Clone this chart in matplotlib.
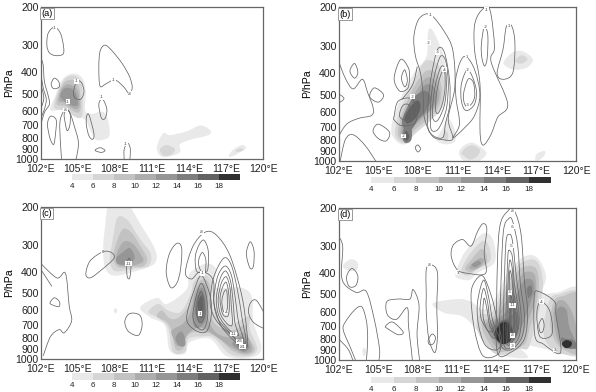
import matplotlib
matplotlib.use('Agg')
import numpy as np
import matplotlib.pyplot as plt
from matplotlib.path import Path
from matplotlib.patches import PathPatch

plt.rcParams['font.family'] = ['Liberation Sans', 'DejaVu Sans']

# axis ticks
lon_ticks = [102, 105, 108, 111, 114, 117, 120]
p_ticks = [200, 300, 400, 500, 600, 700, 800, 900, 1000]
bar_levels = [4, 6, 8, 10, 12, 14, 16, 18, 20]
bar_labels = ['4', '6', '8', '10', '12', '14', '16', '18']
bar_colors = ['#e9e9e9', '#d6d6d6', '#c2c2c2', '#adadad', '#969696', '#7d7d7d', '#626262', '#303030']

# shaded areas: (lower level, outline in lon / hPa)
a_shades = [
    (4, [(102.75,587),(103.16,515),(103.7,435),(104.5,405),(105.3,420),(105.64,485),(105.6,595),(106.1,620),(107.1,607),(107.5,685),(107.5,790),(106.5,815),(106,735),(105.6,660),(104.8,630),(103.8,587),(103.16,600)]),
    (4, [(111.4,875),(111.9,760),(112.45,775),(113.8,745),(114.9,700),(115.7,735),(115.55,775),(114.05,815),(113.25,855),(113.25,930),(112.2,975),(111.6,956)]),
    (4, [(117.2,965),(117.6,900),(118.3,860),(118.6,890),(118.1,930),(117.5,970)]),
    (6, [(103.1,580),(103.4,490),(104,425),(104.8,415),(105.3,450),(105.4,560),(105.3,640),(104.8,640),(104.1,600)]),
    (6, [(111.65,900),(112.2,860),(112.85,900),(112.5,955),(111.9,960)]),
    (6, [(117.75,915),(118.1,890),(118.4,905),(118,925)]),
    (8, [(103.3,560),(103.5,490),(104,440),(104.7,435),(105.1,470),(105.25,560),(105.1,610),(104.6,600),(104,570)]),
    (10, [(103.45,540),(103.65,480),(104.1,455),(104.6,460),(105,490),(105.15,560),(104.9,590),(104.4,575),(103.9,550)]),
    (12, [(103.6,520),(103.8,480),(104.2,470),(104.6,480),(104.9,510),(105,560),(104.7,570),(104.2,555)]),
]
b_shades = [
    (4, [(106,745),(106.1,650),(106.75,510),(107.75,393),(108.65,335),(108.75,263),(109,250),(109.5,283),(110,347),(110.15,460),(109.9,570),(109,650),(107.75,755),(107,840),(106.35,810)]),
    (4, [(109.4,800),(109.85,715),(110.3,640),(110.8,725),(110.8,815),(110.05,840)]),
    (4, [(111.1,920),(111.5,850),(112.1,825),(112.7,860),(113.2,925),(112.6,1000),(111.6,1010)]),
    (4, [(114.5,355),(115.2,320),(116,318),(116.7,345),(116.3,375),(115.4,385),(114.8,375)]),
    (4, [(116.9,990),(117,930),(117.6,900),(117.6,940),(117.2,990)]),
    (6, [(106.3,770),(106.4,660),(106.9,540),(107.7,430),(108.6,350),(109.6,370),(110,450),(109.8,560),(109,650),(107.9,740),(107,830)]),
    (6, [(109.9,790),(110.05,720),(110.3,760),(110.2,810)]),
    (6, [(111.3,920),(111.7,865),(112.2,850),(112.7,890),(112.5,950),(112,985),(111.6,960)]),
    (6, [(115.4,345),(115.9,330),(116.3,345),(115.9,360),(115.5,358)]),
    (8, [(106.5,760),(106.6,670),(107,570),(107.7,460),(108.6,390),(109.4,400),(109.8,470),(109.6,560),(108.8,640),(107.8,720),(107,810)]),
    (10, [(106.7,760),(106.8,670),(107.2,590),(107.8,490),(108.6,420),(109.3,430),(109.65,490),(109.4,560),(108.6,620),(107.7,700),(107,800)]),
    (12, [(106.8,760),(107,680),(107.3,600),(107.9,510),(108.6,450),(109.2,460),(109.4,510),(109.1,570),(108.4,620),(107.6,690),(107.1,790)]),
    (14, [(106.8,650),(107.4,540),(107.9,500),(108.6,480),(109,520),(108.6,590),(108,650),(107.5,720),(107,720)]),
    (14, [(106.85,790),(107,700),(107.5,710),(107.5,800),(107.1,830)]),
    (16, [(107,630),(107.5,560),(108,530),(108.2,570),(107.9,630),(107.4,670),(107.1,670)]),
    (16, [(106.95,780),(107.1,730),(107.35,770),(107.15,810)]),
]
c_shades = [
    (4, [(107.2,250),(107.55,195),(109,195),(110.05,240),(111.25,315),(111.2,365),(109.75,395),(107.9,415),(107.2,380),(107.05,310)]),
    (4, [(107.9,600),(108.05,585),(108.2,600),(108.05,620)]),
    (4, [(110.05,580),(111.4,525),(112.2,560),(113.8,480),(114.05,405),(115.4,365),(116.2,390),(116.1,470),(118.1,470),(119.05,515),(119.2,680),(119.85,900),(118.9,990),(117,970),(115.7,810),(114.05,840),(113.65,950),(112.45,920),(112.05,705),(110.85,645)]),
    (6, [(107.8,290),(108.2,225),(109,230),(110,280),(110.9,330),(110.7,375),(109.6,385),(108,395),(107.6,350)]),
    (6, [(110.7,610),(111.5,560),(112.3,600),(113.3,610),(114.1,510),(114.4,440),(115.2,410),(115.9,450),(115.8,560),(116.3,650),(117.3,700),(118.3,660),(118.9,640),(118.9,730),(119.5,900),(118.8,975),(117.3,950),(116,800),(115,790),(113.95,810),(113.65,930),(112.7,930),(112.3,720),(111.5,650)]),
    (8, [(108,310),(108.6,255),(109.3,262),(110,300),(110.6,345),(110.3,375),(109.4,378),(108.3,380),(107.9,350)]),
    (8, [(111.4,640),(111.8,600),(112.4,650),(113.1,650),(114,570),(114.5,470),(115.2,430),(115.7,470),(115.65,600),(116.2,700),(117.5,740),(118.5,700),(118.7,780),(119.3,900),(118.7,960),(117.5,920),(116.2,790),(114.9,750),(113.9,780),(113.5,900),(112.9,900),(112.6,750),(112.2,680)]),
    (10, [(108.1,335),(108.7,290),(109.4,295),(110,325),(110.3,355),(109.7,370),(108.9,375),(108.3,370)]),
    (10, [(112.6,740),(113.5,690),(114.1,610),(114.5,490),(115.15,450),(115.5,500),(115.5,640),(116.2,760),(117.5,800),(118.5,760),(119.1,900),(118.5,945),(117.6,900),(116.3,800),(115,720),(114,760),(113.4,860),(113,870),(112.7,800)]),
    (12, [(108.1,345),(108.6,325),(109.2,310),(109.6,340),(109.3,365),(108.7,370),(108.2,365)]),
    (12, [(112.9,800),(113.3,750),(113.6,780),(113.7,860),(113.4,880),(113.1,860)]),
    (12, [(114.3,660),(114.5,520),(115,470),(115.4,520),(115.4,650),(115,710),(114.5,720)]),
    (12, [(117.5,850),(118.3,790),(118.9,880),(118.5,930),(117.9,900)]),
    (14, [(114.5,610),(114.6,530),(115,490),(115.3,540),(115.2,650),(114.8,680)]),
    (14, [(117.9,860),(118.4,830),(118.7,880),(118.4,915),(118.1,900)]),
    (16, [(114.7,560),(115,510),(115.15,560),(115,630),(114.8,620)]),
]
d_shades = [
    (4, [(110.9,398),(111.55,322),(112.95,263),(113.7,280),(113.85,355),(112.55,398),(111.9,430),(111,420)]),
    (4, [(102.3,370),(102.9,345),(103.4,355),(103.4,385),(102.8,390)]),
    (4, [(103.8,900),(103.95,880),(104.1,920),(103.9,960)]),
    (4, [(109.15,550),(111.05,525),(112.05,540),(113.05,587),(114,510),(114.85,398),(116.1,335),(117.1,340),(117.75,412),(117.5,490),(118.6,490),(120.3,480),(120.3,920),(118.85,920),(116.6,860),(115.35,830),(116.35,975),(114.1,940),(113.05,800),(111.55,638),(110,607)]),
    (6, [(111.3,390),(111.9,330),(112.9,285),(113.4,300),(113.5,350),(112.5,385),(111.8,410)]),
    (6, [(112.7,620),(113.6,610),(114.2,520),(114.9,430),(115.8,360),(117,350),(117.5,430),(117.3,560),(116.9,700),(116.4,880),(115.7,890),(114.2,950),(113.2,860),(112.5,720)]),
    (6, [(117.7,620),(118.1,520),(118.7,500),(120.3,500),(120.3,900),(119,940),(118.2,890),(117.6,780)]),
    (8, [(111.6,380),(112.1,345),(112.8,310),(113.2,325),(113.2,360),(112.5,380),(112,395)]),
    (8, [(113,660),(113.8,630),(114.4,530),(115,450),(115.8,380),(116.9,375),(117.2,440),(117,560),(116.5,720),(116,860),(114.2,920),(113.4,830),(112.9,720)]),
    (8, [(118.1,620),(118.4,530),(119,510),(120.3,510),(120.3,900),(119.2,905),(118.5,830),(118.1,720)]),
    (10, [(111.9,375),(112.4,350),(112.8,340),(113.05,350),(112.7,375),(112.2,385)]),
    (10, [(113.2,680),(114,640),(114.5,560),(115.3,470),(116,400),(116.8,400),(117,460),(116.8,560),(116.3,680),(115.7,830),(114.3,890),(113.6,810)]),
    (10, [(118.3,620),(118.6,540),(119.2,540),(119.8,620),(120.2,800),(120.2,880),(119.2,880),(118.6,800)]),
    (12, [(112.1,365),(112.6,350),(112.8,360),(112.4,375)]),
    (12, [(113.4,700),(114.1,650),(114.7,600),(115.5,500),(116.1,430),(116.7,430),(116.85,480),(116.5,560),(116,680),(115.4,810),(114.4,860),(113.8,800)]),
    (12, [(118.5,620),(118.8,570),(119.3,590),(119.5,700),(119.9,800),(120.2,880),(119.2,880),(118.8,780)]),
    (14, [(113.6,720),(114.3,660),(114.9,640),(115.5,600),(115.7,700),(115.3,790),(114.5,840),(113.9,790)]),
    (14, [(116.3,470),(116.6,455),(116.7,490),(116.4,520)]),
    (14, [(118.9,790),(119.3,800),(119.8,810),(120.2,880),(119.4,880),(119,840)]),
    (16, [(113.85,740),(114.3,670),(114.9,660),(115.2,720),(115.1,790),(114.5,830),(114,790)]),
    (18, [(113.85,750),(114.3,680),(114.85,675),(115.2,740),(115,820),(114.4,845),(113.95,800)]),
    (18, [(118.95,840),(119.3,810),(119.7,830),(119.6,870),(119.2,880)]),
]

# closed contour lines
a_lines = [
    [(102.5,300),(102.6,265),(103.1,248),(103.6,265),(103.85,305),(103.8,330),(103.2,335),(102.7,325)],
    [(106.8,462),(106.7,380),(106.8,320),(107.2,300),(107.8,320),(108.6,365),(109.2,420),(109.4,470),(109.15,500),(108.7,465),(108,433),(107.3,450)],
    [(102.85,450),(103.1,425),(103.45,440),(103.5,465),(103.2,475),(102.95,470)],
    [(104,690),(103.9,620),(104.2,595),(104.4,630),(104.35,700),(104.15,740)],
    [(102.55,690),(102.8,635),(103.25,660),(103.2,760),(103.05,855),(102.75,800)],
    [(105.7,640),(105.9,625),(106.3,760),(106.2,810),(105.9,780),(105.7,700)],
    [(106.7,560),(107,530),(107.35,590),(107.2,650),(106.9,645)],
    [(106.4,910),(106.8,885),(107.2,910),(106.9,930)],
    [(104.65,495),(104.9,440),(105.3,445),(105.5,490),(105.25,530),(104.8,525)],
]
b_lines = [
    [(107.7,270),(108.1,225),(108.95,216),(110,258),(110.65,315),(110.8,460),(110.3,640),(110.65,790),(109.9,800),(109.1,770),(108.5,640),(108.4,500),(108.2,400),(107.8,330)],
    [(108.75,700),(108.8,520),(109.05,400),(109.5,310),(110,320),(110.4,430),(110.4,560),(110.1,670),(109.9,780),(109.2,770)],
    [(108.95,680),(109,520),(109.25,410),(109.7,335),(110.1,350),(110.3,440),(110.2,560),(109.9,650),(109.5,720),(109.1,730)],
    [(109.1,620),(109.2,500),(109.45,420),(109.8,370),(110.1,390),(110.15,470),(110,560),(109.6,640),(109.3,660)],
    [(109.35,590),(109.4,500),(109.65,420),(110,385),(110.05,470),(109.85,550),(109.55,605)],
    [(106.2,625),(106.5,535),(107.5,520),(107.9,590),(107.75,675),(106.75,690),(106.2,650)],
    [(106.6,620),(106.85,560),(107.3,555),(107.6,610),(107.4,650),(106.9,650)],
    [(106.2,420),(106.7,345),(107.3,380),(107.35,430),(107.2,470),(106.6,480)],
    [(106.75,420),(107,385),(107.2,430),(107,460)],
    [(110.85,430),(111.2,355),(111.65,335),(112.3,385),(112.7,500),(112.3,620),(111.55,705),(110.65,785),(111.15,680),(110.9,525)],
    [(111.3,445),(111.8,385),(112.4,465),(112.3,550),(111.65,590),(111.3,535)],
    [(111.45,500),(111.8,425),(112.2,440),(112.3,510),(112,555),(111.6,560)],
    [(112.3,240),(112.8,207),(113.45,205),(113.8,303),(113.55,355),(114.8,548),(114.05,632),(113.55,755),(113.05,840),(112.8,825),(112.7,705),(112.7,445),(112.3,315)],
    [(112.8,300),(112.95,255),(113.1,245),(113.3,270),(113.25,340),(113.05,370),(112.85,340)],
    [(114,400),(114.45,310),(114.7,245),(115.1,243),(115.35,290),(115.2,395),(114.5,425)],
    [(102.85,390),(103.2,360),(103.45,395),(103.2,420)],
    [(104.35,510),(104.7,465),(105.4,500),(105,540)],
    [(104.6,730),(105,680),(105.85,740),(105.6,810),(105,790)],
    [(107.8,870),(108,845),(108.2,880),(108,910)],
]
c_lines = [
    [(102.75,555),(103.1,525),(103.5,545),(103.5,575),(103.1,570)],
    [(105.65,408),(106,355),(107.05,322),(107.75,326),(107.9,347),(106.8,395),(106,425)],
    [(108.95,370),(109.15,345),(109.3,370),(109.2,425),(109,420)],
    [(108.8,675),(109.2,620),(110,630),(110.2,700),(109.9,780),(109.1,750)],
    [(112.15,400),(112.4,330),(113,295),(113.4,310),(113.3,390),(113,450),(112.5,470)],
    [(113.7,400),(114.3,305),(115.3,262),(116.2,270),(117.3,335),(118.25,510),(118.65,730),(118.7,880),(118.2,880),(117.2,780),(116.5,690),(116,550),(116,450),(115.6,410),(114.8,400),(114.2,430)],
    [(114.5,340),(114.8,300),(115.2,285),(115.55,320),(115.5,390),(115.1,400),(114.6,395)],
    [(114.75,360),(115.05,325),(115.35,350),(115.3,400),(115,400)],
    [(115.7,540),(116,420),(116.8,345),(117.4,370),(117.9,480),(118.3,660),(118.6,830),(118.2,855),(117.3,770),(116.4,690),(115.9,620)],
    [(116,540),(116.3,420),(116.9,375),(117.4,410),(117.7,510),(118,680),(118.4,820),(117.9,820),(117.1,740),(116.3,650)],
    [(116.2,530),(116.5,430),(116.95,395),(117.35,440),(117.55,540),(117.7,680),(118,780),(117.5,760),(116.8,690),(116.35,620)],
    [(116.35,530),(116.6,450),(117,420),(117.3,470),(117.4,560),(117.5,690),(117.2,700),(116.7,650),(116.45,600)],
    [(116.5,530),(116.7,470),(117,445),(117.2,500),(117.25,590),(117.1,640),(116.7,620)],
    [(116.65,540),(116.85,490),(117.05,490),(117.1,580),(116.95,610),(116.75,600)],
    [(113.8,655),(114.35,495),(115,415),(115.7,515),(115.8,630),(115.4,750),(114.5,740)],
    [(114.3,640),(114.6,510),(115,450),(115.4,520),(115.5,640),(115.2,730),(114.7,720)],
    [(114.6,600),(114.8,510),(115,490),(115.2,540),(115.3,620),(115.05,680),(114.75,670)],
    [(114.85,580),(115,530),(115.15,580),(115.1,640),(114.9,640)],
    [(118.65,320),(118.95,290),(119.25,320),(119.2,375),(118.95,385),(118.7,350)],
]
d_lines = [
    [(102.6,415),(103,380),(103.45,410),(103.3,455),(102.8,460)],
    [(105.55,700),(106.1,670),(106.9,745),(106.5,765),(105.75,720)],
    [(108.65,510),(108.65,385),(109,365),(109.5,398),(109.45,565),(109.5,775),(109.3,925),(108.85,800),(108.65,605)],
    [(108.8,810),(109.1,760),(109.35,790),(109.2,840),(108.9,850)],
    [(110.55,335),(110.7,297),(111.4,280),(112.05,300),(112.55,257),(112.95,237),(113.25,250),(113.05,322),(113.15,400),(111.8,400),(111,385)],
    [(112.05,510),(112.3,440),(112.95,412),(113.6,510),(114.1,680),(114.35,800),(114.1,940),(112.95,955),(112.3,720)],
    [(112.55,540),(113,430),(113.4,520),(113.7,660),(114.3,830),(113.95,900),(113.1,850),(112.6,680)],
    [(112.75,560),(113,470),(113.3,540),(113.5,660),(113.9,770),(113.7,790),(113.1,700),(112.8,640)],
    [(112.95,590),(113.05,520),(113.25,580),(113.45,690),(113.7,740),(113.3,730),(113,650)],
    [(114.05,920),(114,510),(114.2,252),(114.85,207),(115.35,207),(115.85,265),(116.1,430),(116.35,605),(116.1,800),(115.1,920)],
    [(114.25,820),(114.3,500),(114.5,260),(114.9,225),(115.2,230),(115.6,300),(115.8,450),(116.1,620),(115.9,790),(115,900)],
    [(114.5,760),(114.55,500),(114.7,290),(114.95,265),(115.2,285),(115.5,420),(115.85,620),(115.7,780),(115,880),(114.6,870)],
    [(114.7,690),(114.75,500),(114.85,330),(115,315),(115.2,340),(115.35,450),(115.7,620),(115.55,750),(115,850),(114.75,830)],
    [(114.85,650),(114.85,480),(114.95,360),(115.05,350),(115.2,390),(115.3,490),(115.62,640),(115.48,760),(115,830),(114.85,810)],
    [(114.95,620),(114.95,470),(115,390),(115.15,420),(115.27,510),(115.5,650),(115.38,760),(115,800),(114.95,780)],
    [(115,600),(115.1,480),(115.25,520),(115.4,660),(115.3,750),(115.05,780)],
    [(115.05,610),(115.12,510),(115.22,560),(115.35,670),(115.25,740),(115.08,760)],
    [(115.1,620),(115.15,540),(115.25,600),(115.3,680),(115.2,730),(115.1,750)],
    [(116.85,510),(117.2,485),(118.4,540),(118.5,625),(118.85,925),(117.55,845),(116.9,775)],
    [(117.05,605),(117.35,540),(118,590),(118.25,720),(118,785),(117.25,775)],
    [(117.2,690),(117.45,645),(117.6,690),(117.5,740),(117.3,745)],
]

# contour lines that leave the panel
a_open = [
    [(103.7,1010),(103.6,850),(103.55,680),(103.8,610),(104.1,590),(104.4,620),(104.7,700),(105.05,840),(104.85,1010)],
    [(108.75,1010),(108.75,900),(109.05,845),(109.25,900),(109.2,1010)],
    [(102,340),(102.2,370),(102.3,440),(102.6,510),(102.7,560),(102.3,610),(102,700)],
    [(102,400),(102.2,470),(102.45,530),(102.3,590),(102,650)],
    [(102,450),(102.25,520),(102.1,570)],
]
b_open = [
    [(101.9,340),(102.5,420),(103.1,470),(103.8,425),(104.2,490),(104.6,570),(104.5,620),(103.5,640),(102.6,680),(102,770)],
    [(102.1,1010),(102.5,800),(103.1,760),(104,850),(104.85,1010)],
    [(101.9,490),(102.4,520),(101.9,550)],
    [(107.95,372),(107.6,450),(106.8,525)],
]
c_open = [
    [(101.9,360),(103.3,425),(104,405),(104.3,570),(104.5,670),(103.9,760),(103.5,735),(102.8,790),(102.2,970)],
    [(101.9,380),(102.9,465)],
    [(120.1,730),(119.2,680),(118.8,610),(119,550),(119.45,540),(120.1,620)],
]
d_open = [
    [(101.9,265),(102.3,300),(102.2,398),(102.45,450),(103.35,490),(104.1,485),(104.7,650),(105.1,890),(105.05,1010)],
    [(103.3,1010),(102.9,880),(102.35,730),(102.5,670),(103.2,590),(103.75,570),(104.1,660),(104.2,800),(104.1,1010)],
    [(101.9,790),(102.7,890),(103.1,1010)],
    [(108.15,1010),(107.95,760),(108.1,560),(107.65,475),(107.4,525),(106.5,525),(105.65,540),(105.7,620),(106.4,650),(107.2,575),(107.3,700),(107.5,880),(107.6,1010)],
]

# small contour labels
a_text = [(104.9,440,'-1'),(104.2,545,'-1'),(104,595,'-8'),(103.15,250,'-1'),(107.9,433,'-1'),(109.2,500,'-8'),(106.9,520,'-1'),(108.9,850,'-1')]
b_text = [(108.95,216,'-1'),(108.8,290,'-2'),(109.5,320,'-3'),(110,385,'-4'),(111.7,335,'1'),(111.8,385,'-2'),(111.8,555,'-3'),(113.1,245,'-2'),(113.2,205,'-1'),(114.9,243,'1'),(107.6,510,'-2'),(106.9,770,'-2')]
c_text = [(109.1,365,'-11'),(107,322,'8'),(115,262,'-8'),(114.9,620,'-1'),(117,610,'-4'),(117.6,770,'-11'),(118.1,830,'-85'),(118.3,880,'-81'),(115.1,405,'-1')]
d_text = [(115.2,207,'-8'),(115.2,245,'-6'),(115.15,300,'-5'),(115,490,'-3'),(115.2,560,'-11'),(115.2,770,'-8'),(115.2,860,'-3'),(111.05,398,'3'),(108.9,365,'-8'),(117.4,540,'-4'),(118.4,900,'3')]

panel_names = ['(a)', '(b)', '(c)', '(d)']
panel_shades = [a_shades, b_shades, c_shades, d_shades]
panel_lines = [a_lines, b_lines, c_lines, d_lines]
panel_open = [a_open, b_open, c_open, d_open]
panel_text = [a_text, b_text, c_text, d_text]

# axes and colour bar boxes in pixels: left, top, right, bottom
panel_boxes = [(40.7, 6.7, 263.3, 159.3), (338.7, 7.3, 576.3, 161), (40.7, 206.7, 263.3, 358.7), (338.7, 207.7, 575.7, 360)]
bar_boxes = [(72, 174, 239.5, 180), (371, 177, 551, 183.5), (72, 373, 239.5, 379.5), (371, 376.5, 551, 383)]

W, H = 596, 392


def smooth_path(pts, closed=True):
    """Smooth Bezier path that goes through every point of pts"""
    pts = np.array(pts, dtype=float)
    # work in lon / log p so the curve does not bulge on the log axis
    q = np.column_stack([pts[:, 0], np.log10(pts[:, 1]) * 10])
    if closed:
        prev, nxt = np.roll(q, 1, axis=0), np.roll(q, -1, axis=0)
        seg = range(len(q))
    else:
        prev = np.vstack([q[0], q[:-1]])
        nxt = np.vstack([q[1:], q[-1]])
        seg = range(len(q) - 1)
    tang = (nxt - prev) / 6
    verts = [q[0]]
    codes = [Path.MOVETO]
    for i in seg:
        j = (i + 1) % len(q)
        verts += [q[i] + tang[i], q[j] - tang[j], q[j]]
        codes += [Path.CURVE4] * 3
    verts = np.array(verts)
    verts[:, 1] = 10 ** (verts[:, 1] / 10)
    return Path(verts, codes)


def to_fig(box):
    l, t, r, b = box
    return [l / W, 1 - b / H, (r - l) / W, (b - t) / H]


def draw_panel(box, name, shades, lines, open_lines, labels):
    ax = fig.add_axes(to_fig(box))
    ax.set_yscale('log')
    ax.set_xlim(102, 120)
    ax.set_ylim(1000, 200)
    for level, outline in shades:
        ax.add_patch(PathPatch(smooth_path(outline), fc=bar_colors[bar_levels.index(level)], ec='none', zorder=2))
    for line in lines:
        ax.add_patch(PathPatch(smooth_path(line), fc='none', ec='#666666', lw=0.55, zorder=3))
    for line in open_lines:
        ax.add_patch(PathPatch(smooth_path(line, closed=False), fc='none', ec='#666666', lw=0.55, zorder=3))
    for lon, p, s in labels:
        ax.text(lon, p, s, fontsize=3, color='#333333', ha='center', va='center', zorder=4,
                bbox=dict(fc='white', ec='none', pad=0.3))
    ax.set_xticks(lon_ticks)
    ax.set_xticklabels([f'{v}°E' for v in lon_ticks], fontsize=7.6)
    ax.set_yticks(p_ticks)
    ax.set_yticklabels([str(v) for v in p_ticks], fontsize=7.6)
    ax.minorticks_off()
    ax.tick_params(length=0, colors='#222222')
    ax.tick_params(axis='x', pad=3.5)
    ax.tick_params(axis='y', pad=1.5)
    ax.set_ylabel('P/hPa', fontsize=7.6, labelpad=1)
    for s in ax.spines.values():
        s.set_color('#666666')
        s.set_linewidth(0.9)
    ax.text(0.002, 0.985, name, transform=ax.transAxes, fontsize=6.6, ha='left', va='top', zorder=5,
            bbox=dict(fc='white', ec='#999999', lw=0.7, pad=1))


def draw_bar(box):
    cax = fig.add_axes(to_fig(box))
    cax.pcolormesh(bar_levels, [0, 1], np.array([bar_levels[:-1]]), cmap=matplotlib.colors.ListedColormap(bar_colors),
                   norm=matplotlib.colors.BoundaryNorm(bar_levels, len(bar_colors)))
    cax.set_yticks([])
    cax.set_xticks(bar_levels[:-1])
    cax.set_xticklabels(bar_labels, fontsize=5.8)
    cax.tick_params(length=0, pad=2, colors='#222222')
    for s in cax.spines.values():
        s.set_visible(False)


fig = plt.figure(figsize=(W / 100, H / 100), dpi=100)
for i in range(4):
    draw_panel(panel_boxes[i], panel_names[i], panel_shades[i], panel_lines[i], panel_open[i], panel_text[i])
    draw_bar(bar_boxes[i])
fig.savefig('out.png', dpi=100)
